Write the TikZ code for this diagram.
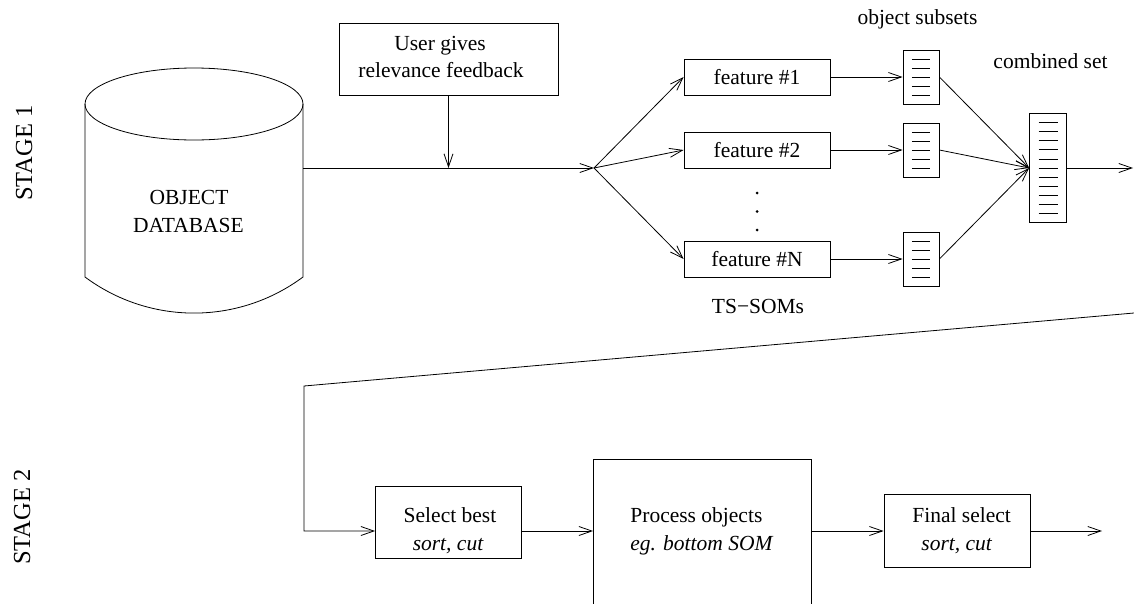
\documentclass[tikz,border=0pt]{standalone}
\usepackage{fontspec}
\setmainfont{Liberation Serif}
\usetikzlibrary{arrows.meta}
\begin{document}
\begin{tikzpicture}[x=1pt,y=-1pt,
  line width=0.8pt,
  flow/.style={-{Straight Barb[length=13pt,width=9pt,line width=0.8pt]}},
  txt/.style={font=\fontsize{21.5}{27}\selectfont, inner sep=0pt},
  line/.style={txt, anchor=base},
  box/.style={draw, inner sep=0pt},
  featbox/.style={box, txt, minimum width=146pt, minimum height=36pt, text height=15pt, text depth=0pt},
  setbox/.style={box, minimum width=36pt, minimum height=54pt},
  stage/.style={font=\fontsize{24.5}{29}\selectfont, rotate=90, inner sep=0pt, text height=16pt, text depth=0pt}]

\useasboundingbox (0,0) rectangle (1134,603);
\clip (0,0) rectangle (1134,603);

% stage labels
\node[stage] (st1) at (24,153) {STAGE 1};
\node[stage] (st2) at (22,517) {STAGE 2};

% object database cylinder
\coordinate (dbtl) at (85,104);
\coordinate (dbtr) at (303,104);
\coordinate (dbbl) at (85,277);
\coordinate (dbbr) at (303,277);
\draw (194,104) ellipse [x radius=109pt, y radius=36pt];
\draw (dbtl) -- (dbbl) .. controls (149.8,325.1) and (238.2,325.1) .. (dbbr) -- (dbtr);
\node[line] (db1) at (189,204) {OBJECT};
\node[line] (db2) at (188.5,232) {DATABASE};
\coordinate (dbout) at (303,168);

% relevance feedback
\node[box, minimum width=219pt, minimum height=72pt] (user) at (448.5,59) {};
\node[line] (u1) at (440,50) {User gives};
\node[line] (u2) at (441,77) {relevance feedback};

\coordinate (fan) at (594,168);
\draw[flow] (dbout) -- (fan);
\draw[flow] (user.south) -- (user.south |- fan);

% feature maps
\node[featbox] (f1) at (757,77) {feature \#1};
\node[featbox] (f2) at (757,150) {feature \#2};
\node[featbox] (fN) at (757,259) {feature \#N};
\foreach \y in {193,211.5,230} \fill (757,\y) circle [radius=1.5pt];
\node[line] (ts) at (758,313) {TS−SOMs};

% object subsets and combined set
\node[setbox] (s1) at (921,77) {};
\node[setbox] (s2) at (921,150) {};
\node[setbox] (sN) at (921,259) {};
\node[box, minimum width=37pt, minimum height=109pt] (comb) at (1048,168) {};
\foreach \n in {s1,s2,sN}
  \foreach \d in {-18,-9,0,9,18}
    \draw ([shift={(-9.25,\d)}]\n.center) -- ([shift={(9.25,\d)}]\n.center);
\foreach \k in {-5,...,5}
  \draw ([shift={(-9.5,9.1*\k)}]comb.center) -- ([shift={(9.5,9.1*\k)}]comb.center);
\node[line] (subs) at (917.5,24) {object subsets};
\node[line] (combl) at (1050.5,68) {combined set};

\foreach \f in {f1,f2,fN} \draw[flow] (fan) -- (\f.west);
\draw[flow] (f1.east) -- (s1.west);
\draw[flow] (f2.east) -- (s2.west);
\draw[flow] (fN.east) -- (sN.west);
\foreach \s in {s1,s2,sN} \draw[flow] (\s.east) -- (comb.west);
\coordinate (out1) at (1133,168);
\draw[flow] (comb.east) -- (out1);

% stage 2
\coordinate (feedR) at (1134,313);
\coordinate (feedL) at (304,386);
\coordinate (row) at (0,531);
\node[box, minimum width=146pt, minimum height=72pt] (sel) at (448.5,522) {};
\node[box, minimum width=218pt, minimum height=200pt, anchor=north] (proc) at (702.5,458.5) {};
\node[box, minimum width=146pt, minimum height=73pt] (fin) at (957,531) {};
\node[line] (sel1) at (450,522) {Select best};
\node[line] (sel2) at (448,550) {\itshape sort, cut};
\node[line, anchor=base west] (p1) at (630,522) {Process objects};
\node[line, anchor=base west] (p2) at (630,550) {\itshape eg. bottom SOM};
\node[line, anchor=base west] (fin1) at (912,522) {Final select};
\node[line, anchor=base west] (fin2) at (921,550) {\itshape sort, cut};
\coordinate (out2) at (1102,531);

\draw[flow] (feedR) -- (feedL) -- (feedL |- row) -- (sel.west |- row);
\draw[flow] (sel.east |- row) -- (proc.west |- row);
\draw[flow] (proc.east |- row) -- (fin.west |- row);
\draw[flow] (fin.east |- row) -- (out2);
\end{tikzpicture}
\end{document}
